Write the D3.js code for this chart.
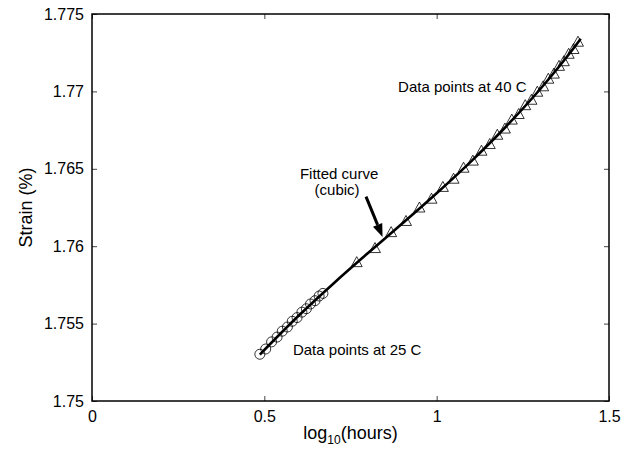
<!DOCTYPE html>
<html>
<head>
<meta charset="utf-8">
<script src="https://cdn.jsdelivr.net/npm/d3@7"></script>
<style>
  body { margin: 0; background: #fff; }
  svg text { font-family: "Liberation Sans", Arial, sans-serif; fill: #000; }
</style>
</head>
<body>
<div id="chart"></div>
<script>
// data: log10(hours) vs strain (%)
var logHours25 = [0.487, 0.504, 0.521, 0.537, 0.552, 0.567, 0.581, 0.595, 0.609, 0.622, 0.634, 0.647, 0.659, 0.670];
var strain25 = [1.75302, 1.75336, 1.75382, 1.75413, 1.75451, 1.75478, 1.75515, 1.75539, 1.75574, 1.75596, 1.75627, 1.75648, 1.75678, 1.75695];

var logHours40 = [0.768, 0.821, 0.868, 0.911, 0.950, 0.985, 1.018, 1.049, 1.078, 1.105, 1.130, 1.154, 1.176, 1.198,
  1.218, 1.238, 1.257, 1.275, 1.292, 1.309, 1.324, 1.340, 1.355, 1.369, 1.383, 1.397, 1.410];
var strain40 = [1.75897, 1.75988, 1.76091, 1.76163, 1.76250, 1.76307, 1.76383, 1.76436, 1.76507, 1.76553, 1.76617, 1.76660, 1.76720, 1.76760,
  1.76818, 1.76854, 1.76911, 1.76946, 1.76998, 1.77033, 1.77082, 1.77115, 1.77165, 1.77195, 1.77243, 1.77274, 1.77321];

// cubic fit, as drawn
var fitLogHours = [0.487, 0.6, 0.7, 0.8, 0.9, 1.0, 1.1, 1.2, 1.3, 1.4, 1.418];
var fitStrain = [1.75300, 1.75552, 1.75758, 1.75954, 1.76146, 1.76342, 1.76548, 1.76770, 1.77014, 1.77287, 1.77340];

var xTicks = [0, 0.5, 1, 1.5];
var xTickLabels = ["0", "0.5", "1", "1.5"];
var yTicks = [1.75, 1.755, 1.76, 1.765, 1.77, 1.775];
var yTickLabels = ["1.75", "1.755", "1.76", "1.765", "1.77", "1.775"];

var W = 630, H = 450;
var margin = {top: 14, right: 21, bottom: 49, left: 92};
var w = W - margin.left - margin.right;
var h = H - margin.top - margin.bottom;

var svg = d3.select("#chart").append("svg")
  .attr("width", W)
  .attr("height", H);

var g = svg.append("g")
  .attr("transform", "translate(" + margin.left + "," + margin.top + ")");

var x = d3.scaleLinear().domain([0, 1.5]).range([0, w]);
var y = d3.scaleLinear().domain([1.75, 1.775]).range([h, 0]);

/* axes - matlab style, ticks pointing inward on all four sides */
function styleAxis(sel) {
  sel.select(".domain").remove();
  sel.selectAll(".tick line").attr("stroke", "#444").attr("stroke-width", 1);
  sel.selectAll(".tick text").style("font-size", "16px");
}

g.append("g")
  .attr("transform", "translate(0," + h + ")")
  .call(d3.axisBottom(x).tickValues(xTicks).tickSizeInner(-5).tickSizeOuter(0).tickPadding(10)
    .tickFormat(function(d, i) { return xTickLabels[i]; }))
  .call(styleAxis);

g.append("g")
  .call(d3.axisLeft(y).tickValues(yTicks).tickSizeInner(-5).tickSizeOuter(0).tickPadding(8)
    .tickFormat(function(d, i) { return yTickLabels[i]; }))
  .call(styleAxis);

g.append("g")
  .call(d3.axisTop(x).tickValues(xTicks).tickSizeInner(-5).tickSizeOuter(0).tickFormat(""))
  .call(styleAxis);

g.append("g")
  .attr("transform", "translate(" + w + ",0)")
  .call(d3.axisRight(y).tickValues(yTicks).tickSizeInner(-5).tickSizeOuter(0).tickFormat(""))
  .call(styleAxis);

g.append("rect")
  .attr("width", w)
  .attr("height", h)
  .attr("fill", "none")
  .attr("stroke", "#000")
  .attr("stroke-width", 1.5);

// markers
var pts25 = logHours25.map(function(d, i) { return [d, strain25[i]]; });
var pts40 = logHours40.map(function(d, i) { return [d, strain40[i]]; });

g.selectAll("circle.p25")
  .data(pts25)
  .enter()
  .append("circle")
  .attr("class", "p25")
  .attr("cx", function(d) { return x(d[0]); })
  .attr("cy", function(d) { return y(d[1]); })
  .attr("r", 5)
  .attr("fill", "none")
  .attr("stroke", "#000")
  .attr("stroke-width", 0.8);

g.selectAll("path.p40")
  .data(pts40)
  .enter()
  .append("path")
  .attr("class", "p40")
  .attr("transform", function(d) { return "translate(" + x(d[0]) + "," + y(d[1]) + ")"; })
  .attr("d", "M0,-5.5L5.5,4.5L-5.5,4.5Z")
  .attr("fill", "none")
  .attr("stroke", "#000")
  .attr("stroke-width", 0.8);

// fitted curve
var fit = fitLogHours.map(function(d, i) { return [d, fitStrain[i]]; });
var line = d3.line()
  .x(function(d) { return x(d[0]); })
  .y(function(d) { return y(d[1]); })
  .curve(d3.curveMonotoneX);

g.append("path")
  .datum(fit)
  .attr("d", line)
  .attr("fill", "none")
  .attr("stroke", "#000")
  .attr("stroke-width", 2.6);

/* annotations */
var notes = [
  {text: "Data points at 40 C", at: [0.888, 1.76996], anchor: "start"},
  {text: "Data points at 25 C", at: [0.583, 1.75297], anchor: "start"},
  {text: "Fitted curve", at: [0.717, 1.76434], anchor: "middle"},
  {text: "(cubic)", at: [0.711, 1.76331], anchor: "middle"}
];

g.selectAll("text.note")
  .data(notes)
  .enter()
  .append("text")
  .attr("class", "note")
  .attr("x", function(d) { return x(d.at[0]); })
  .attr("y", function(d) { return y(d.at[1]); })
  .attr("text-anchor", function(d) { return d.anchor; })
  .style("font-size", "15px")
  .text(function(d) { return d.text; });

// arrow pointing at the curve
var arrowFrom = [0.795, 1.7632], arrowTo = [0.843, 1.7606];
var x0 = x(arrowFrom[0]), y0 = y(arrowFrom[1]), x1 = x(arrowTo[0]), y1 = y(arrowTo[1]);
var ang = Math.atan2(y1 - y0, x1 - x0);
var hl = 13, hw = 5;
var bx = x1 - hl * Math.cos(ang), by = y1 - hl * Math.sin(ang);
g.append("line")
  .attr("x1", x0).attr("y1", y0)
  .attr("x2", bx).attr("y2", by)
  .attr("stroke", "#000")
  .attr("stroke-width", 3);
g.append("path")
  .attr("d", "M" + x1 + "," + y1 +
    "L" + (bx + hw * Math.sin(ang)) + "," + (by - hw * Math.cos(ang)) +
    "L" + (bx - hw * Math.sin(ang)) + "," + (by + hw * Math.cos(ang)) + "Z")
  .attr("fill", "#000");

// axis titles
var xt = svg.append("text")
  .attr("x", margin.left + w / 2)
  .attr("y", 439)
  .attr("text-anchor", "middle")
  .style("font-size", "18px");
xt.append("tspan").text("log");
xt.append("tspan").attr("dy", 5).style("font-size", "12px").text("10");
xt.append("tspan").attr("dy", -5).text("(hours)");

svg.append("text")
  .attr("transform", "translate(32," + (margin.top + h / 2) + ") rotate(-90)")
  .attr("text-anchor", "middle")
  .style("font-size", "18px")
  .text("Strain (%)");
</script>
</body>
</html>
